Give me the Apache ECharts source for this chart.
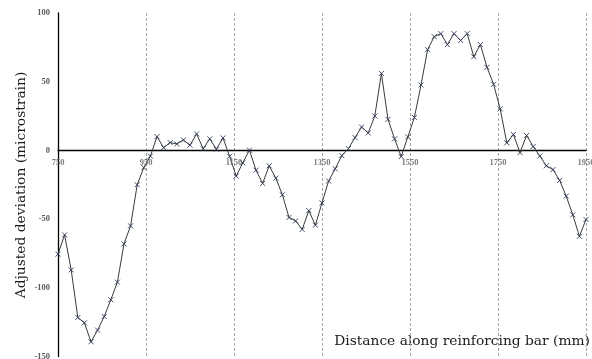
<!DOCTYPE html>
<html>
<head>
<meta charset="utf-8">
<script src="https://cdn.jsdelivr.net/npm/echarts@6/dist/echarts.min.js"></script>
<style>
html,body{margin:0;padding:0;background:#fff;}
#chart{width:592px;height:359px;}
</style>
</head>
<body>
<div id="chart"></div>
<script>
// Distance along reinforcing bar (mm)
const distances = [
  750, 765, 780, 795, 810, 825, 840, 855, 870, 885,
  900, 915, 930, 945, 960, 975, 990, 1005, 1020, 1035,
  1050, 1065, 1080, 1095, 1110, 1125, 1140, 1155, 1170, 1185,
  1200, 1215, 1230, 1245, 1260, 1275, 1290, 1305, 1320, 1335,
  1350, 1365, 1380, 1395, 1410, 1425, 1440, 1455, 1470, 1485,
  1500, 1515, 1530, 1545, 1560, 1575, 1590, 1605, 1620, 1635,
  1650, 1665, 1680, 1695, 1710, 1725, 1740, 1755, 1770, 1785,
  1800, 1815, 1830, 1845, 1860, 1875, 1890, 1905, 1920, 1935,
  1950
];
// Adjusted deviation (microstrain)
const deviations = [
  -75.5, -61.5, -87, -121.6, -125.5, -139.3, -130.8, -120.9, -108.7, -95.9,
  -68, -54.9, -25, -12.5, -4.2, 10, 2, 5.7, 4.7, 7.6,
  3.8, 12, 1.3, 8.4, 0.9, 9.1, -4.3, -18.7, -9, 0.2,
  -14.4, -24, -11.2, -20.2, -32.3, -48.8, -51.3, -57.5, -43.8, -54.4,
  -38.2, -22.3, -13.4, -3.8, 1.3, 9.3, 17, 12.7, 25, 56,
  22.6, 8.4, -4.5, 9.8, 24, 47.6, 73.3, 82.8, 85, 77,
  85, 80, 85, 68.2, 77, 60.5, 48.1, 30.2, 5.5, 11.6,
  -1.6, 10.9, 2.8, -4.1, -11.2, -14, -21.8, -33.3, -46.9, -62.5,
  -50.3
];
const xTickValues = [750, 950, 1150, 1350, 1550, 1750, 1950];
const xTickLabels = ['750', '950', '1150', '1350', '1550', '1750', '1950'];
const yTickLabels = ['-150', '-100', '-50', '0', '50', '100'];
const xTitle = 'Distance along reinforcing bar (mm)';
const yTitle = 'Adjusted deviation (microstrain)';

const seriesData = distances.map((d, i) => [d, deviations[i]]);
const xLabelData = xTickValues.map((v) => [v, 0]);

const chart = echarts.init(document.getElementById('chart'), null, {renderer: 'canvas'});
const tickFont = {
  color: '#595959', fontSize: 8.5, fontWeight: 'bold', fontFamily: 'Liberation Serif'
};
chart.setOption({
  animation: false,
  backgroundColor: '#ffffff',
  grid: {left: 58, right: 6, top: 13, bottom: 2.5, containLabel: false, outerBoundsMode: 'none'},
  xAxis: {
    type: 'value', min: 750, max: 1950, interval: 200,
    axisLine: {show: true, onZero: true, lineStyle: {color: '#000', width: 1.3}},
    axisTick: {show: false},
    axisLabel: {show: false},
    splitLine: {show: true, lineStyle: {color: '#a6a6a6', type: [3, 2], width: 1}}
  },
  yAxis: {
    type: 'value', min: -150, max: 100, interval: 50,
    axisLine: {show: true, onZero: false, lineStyle: {color: '#000', width: 1.3}},
    axisTick: {show: false},
    axisLabel: Object.assign({
      margin: 8,
      formatter: (v) => { const i = Math.round((v + 150) / 50); return yTickLabels[i] || ''; }
    }, tickFont),
    splitLine: {show: false}
  },
  graphic: [
    {
      type: 'text', x: 21, y: 185, rotation: Math.PI / 2,
      style: {text: yTitle, fill: '#1a1a1a', font: '13.8px "DejaVu Serif"', textAlign: 'center', textVerticalAlign: 'middle'}
    },
    {
      type: 'text', x: 590, y: 341,
      style: {text: xTitle, fill: '#1a1a1a', font: '13.8px "DejaVu Serif"', textAlign: 'right', textVerticalAlign: 'middle'}
    }
  ],
  series: [{
    type: 'line',
    data: seriesData,
    symbol: 'path://M0,0L10,10M10,0L0,10',
    symbolSize: 5,
    showAllSymbol: true,
    lineStyle: {color: '#3a3a3a', width: 1},
    itemStyle: {color: '#2b3a55', borderColor: '#2b3a55', borderWidth: 0.9},
    emphasis: {disabled: true},
    z: 3
  }, {
    type: 'scatter',
    data: xLabelData,
    symbolSize: 0,
    silent: true,
    clip: false,
    label: Object.assign({
      show: true, position: 'bottom', distance: 8,
      formatter: (p) => xTickLabels[p.dataIndex]
    }, tickFont),
    z: 4
  }]
});
</script>
</body>
</html>
